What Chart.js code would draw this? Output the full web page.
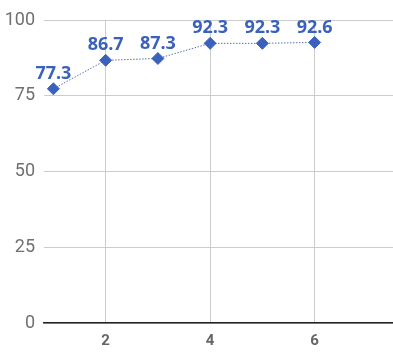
<!DOCTYPE html>
<html lang="en">
<head>
  <meta charset="UTF-8" />
  <title>Line chart</title>
  <script src="https://cdn.jsdelivr.net/npm/chart.js"></script>
  <style>
    html, body { margin: 0; padding: 0; background: #fff; }
    #wrap { width: 393px; height: 354px; }
  </style>
</head>
<body>
  <div id="wrap"><canvas id="chart" width="393" height="354"></canvas></div>
  <script>
    const xValues = [1, 2, 3, 4, 5, 6];
    const yValues = [77.3, 86.7, 87.3, 92.3, 92.3, 92.6];
    const xTicks = [2, 4, 6];
    const yTicks = [0, 25, 50, 75, 100];

    const blue = '#3a62bd';

    // draws the value above each point
    const valueLabels = {
      id: 'valueLabels',
      afterDatasetsDraw(chart) {
        const ctx = chart.ctx;
        const meta = chart.getDatasetMeta(0);
        ctx.save();
        ctx.font = 'bold 18px "Open Sans", sans-serif';
        ctx.fillStyle = blue;
        ctx.textAlign = 'center';
        ctx.textBaseline = 'bottom';
        meta.data.forEach((pt, i) => {
          ctx.fillText(yValues[i].toFixed(1), pt.x, pt.y - 6);
        });
        ctx.restore();
      }
    };

    new Chart(document.getElementById('chart').getContext('2d'), {
      type: 'line',
      data: {
        datasets: [{
          data: xValues.map((x, i) => ({ x: x, y: yValues[i] })),
          borderColor: '#5a74a8',
          borderWidth: 1,
          borderDash: [1.5, 1.5],
          pointStyle: 'rectRot',
          pointRadius: 6,
          pointBackgroundColor: blue,
          pointBorderColor: blue,
          fill: false
        }]
      },
      options: {
        responsive: false,
        animation: false,
        layout: { autoPadding: false, padding: { top: 20, right: 0, left: 0, bottom: 0 } },
        plugins: { legend: { display: false }, tooltip: { enabled: false } },
        scales: {
          x: {
            type: 'linear',
            min: 0.82,
            max: 7.5,
            afterBuildTicks: axis => { axis.ticks = xTicks.map(v => ({ value: v })); },
            afterFit: axis => { axis.height = 31; },
            grid: { color: '#cccccc', drawTicks: false },
            border: { color: '#222222', width: 1.5 },
            ticks: { color: '#666666', padding: 9, font: { family: 'Roboto', size: 15, weight: 'bold' } }
          },
          y: {
            min: 0,
            max: 100,
            afterBuildTicks: axis => { axis.ticks = yTicks.map(v => ({ value: v })); },
            afterFit: axis => { axis.width = 44; },
            grid: { color: '#cccccc', drawTicks: false },
            border: { display: false },
            ticks: { color: '#707070', padding: 9, font: { family: 'Roboto', size: 18 } }
          }
        }
      },
      plugins: [valueLabels]
    });
  </script>
</body>
</html>
